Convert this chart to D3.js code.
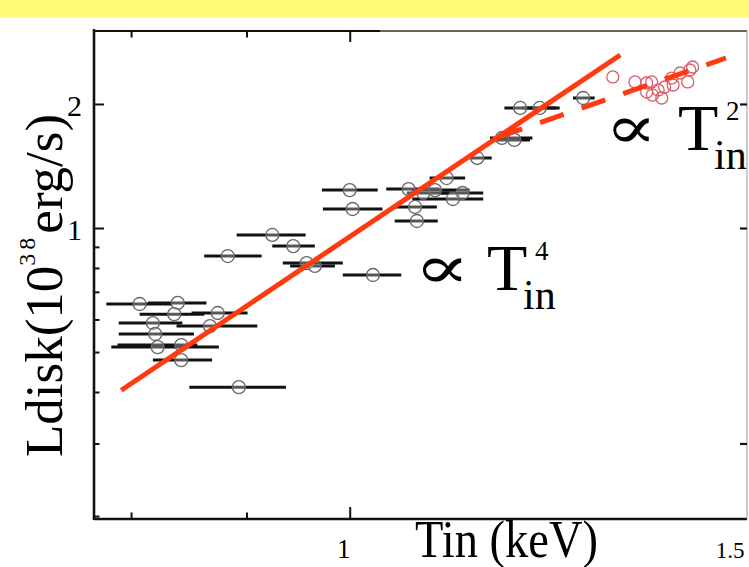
<!DOCTYPE html>
<html>
<head>
<meta charset="utf-8">
<script src="https://cdn.jsdelivr.net/npm/d3@7/dist/d3.min.js"></script>
<style>
  html, body { margin: 0; padding: 0; background: #fff; }
  svg { display: block; }
  text { font-family: "Liberation Serif", "Times New Roman", serif; fill: #000; }
</style>
</head>
<body>
<svg id="chart" width="749" height="567"></svg>
<script>
// Black points: disk temperature (keV) with its range, and disk luminosity (1e38 erg/s)
const tin   = [0.807, 0.839, 0.836, 0.874, 0.818, 0.867, 0.820, 0.822, 0.842, 0.842, 0.893,
               0.883, 0.924, 0.944, 0.957, 0.965, 1.024, 1.000, 1.003, 1.062, 1.069, 1.071,
               1.078, 1.091, 1.104, 1.122, 1.111, 1.139, 1.168, 1.183, 1.190, 1.214, 1.269];
const tinLo = [0.780, 0.814, 0.807, 0.851, 0.790, 0.838, 0.790, 0.784, 0.789, 0.818, 0.849,
               0.862, 0.891, 0.924, 0.934, 0.941, 0.993, 0.972, 0.973, 1.038, 1.047, 1.047,
               1.060, 1.065, 1.085, 1.096, 1.066, 1.130, 1.154, 1.160, 1.171, 1.192, 1.256];
const tinHi = [0.834, 0.864, 0.862, 0.901, 0.843, 0.910, 0.853, 0.875, 0.856, 0.869, 0.937,
               0.914, 0.956, 0.965, 0.993, 0.985, 1.054, 1.029, 1.034, 1.096, 1.093, 1.094,
               1.107, 1.130, 1.125, 1.146, 1.146, 1.156, 1.205, 1.202, 1.235, 1.239, 1.284];
const ldisk = [0.654, 0.658, 0.618, 0.622, 0.588, 0.578, 0.553, 0.514, 0.520, 0.478, 0.411,
               0.855, 0.962, 0.904, 0.822, 0.809, 0.769, 1.236, 1.112, 1.243, 1.125, 1.040,
               1.216, 1.236, 1.322, 1.216, 1.176, 1.479, 1.654, 1.636, 1.956, 1.956, 2.068];

// High-temperature points (open red circles)
const hotTin   = [1.308, 1.338, 1.354, 1.361, 1.370, 1.375, 1.362, 1.389, 1.391, 1.401, 1.415, 1.412, 1.419, 1.379, 1.354];
const hotLdisk = [2.326, 2.262, 2.249, 2.262, 2.163, 2.068, 2.102, 2.312, 2.224, 2.378, 2.418, 2.262, 2.459, 2.199, 2.138];

// Power-law guide lines: L ∝ T^4 (solid) and L ∝ T^2 (dashed)
const fit4Tin = [0.792, 1.318], fit4L = [0.404, 2.630];
const fit2Tin = [1.164, 1.468], fit2L = [1.663, 2.586];

// Ticks and labels
const xMinorTicks = [0.8, 0.9];
const xMajorTicks = [1];
const xTickLabels = ["1", "1.5"];
const xTickLabelValues = [1, 1.5];
const yMinorTicks = [0.2, 0.3, 0.4, 0.5, 0.6, 0.7, 0.8, 0.9];
const yMajorTicks = [1, 2];
const yTickLabels = ["2", "1"];
const yTickLabelValues = [2, 1];
const yRightTicks = [0.3, 1, 2];

const svg = d3.select("#chart");
const plotLeft = 94, plotRight = 747, plotTop = 31, plotBottom = 519;

const x = d3.scaleLog().domain([0.7703, 1.5]).range([plotLeft, plotRight]);
const y = d3.scaleLog().domain([0.1967, 3.007]).range([plotBottom, plotTop]);

// Yellow strip across the top of the page
svg.append("rect").attr("x", 0).attr("y", 0).attr("width", 749).attr("height", 18)
  .attr("fill", "#fffb74");

// Plot frame
const frame = svg.append("g");
frame.append("line").attr("x1", plotLeft).attr("x2", plotLeft).attr("y1", plotTop - 2).attr("y2", plotBottom + 1)
  .attr("stroke", "#111").attr("stroke-width", 2.6);
frame.append("line").attr("x1", plotLeft).attr("x2", plotRight).attr("y1", plotBottom).attr("y2", plotBottom)
  .attr("stroke", "#111").attr("stroke-width", 2.6);
frame.append("line").attr("x1", plotLeft).attr("x2", 380).attr("y1", plotTop).attr("y2", plotTop)
  .attr("stroke", "#111").attr("stroke-width", 2.2);
frame.append("line").attr("x1", 380).attr("x2", plotRight).attr("y1", plotTop).attr("y2", plotTop)
  .attr("stroke", "#333").attr("stroke-width", 1.6);
frame.append("line").attr("x1", plotRight).attr("x2", plotRight).attr("y1", plotTop).attr("y2", plotBottom)
  .attr("stroke", "#999").attr("stroke-width", 1);

// Axis ticks (pointing into the plot)
function styleAxis(g) {
  g.select(".domain").remove();
  g.selectAll(".tick line").attr("stroke", "#111").attr("stroke-width", 2);
  g.selectAll(".tick text").remove();
}
svg.append("g").attr("transform", `translate(0,${plotBottom})`)
  .call(d3.axisBottom(x).tickValues(xMinorTicks).tickSizeInner(-6.5).tickSizeOuter(0)).call(styleAxis);
svg.append("g").attr("transform", `translate(0,${plotBottom})`)
  .call(d3.axisBottom(x).tickValues(xMajorTicks).tickSizeInner(-12).tickSizeOuter(0)).call(styleAxis);
svg.append("g").attr("transform", `translate(0,${plotTop})`)
  .call(d3.axisTop(x).tickValues(xMinorTicks).tickSizeInner(-6.5).tickSizeOuter(0)).call(styleAxis);
svg.append("g").attr("transform", `translate(0,${plotTop})`)
  .call(d3.axisTop(x).tickValues(xMajorTicks).tickSizeInner(-11).tickSizeOuter(0)).call(styleAxis);
svg.append("g").attr("transform", `translate(${plotLeft},0)`)
  .call(d3.axisLeft(y).tickValues(yMinorTicks).tickSizeInner(-5.5).tickSizeOuter(0)).call(styleAxis);
svg.append("g").attr("transform", `translate(${plotLeft},0)`)
  .call(d3.axisLeft(y).tickValues(yMajorTicks).tickSizeInner(-10).tickSizeOuter(0)).call(styleAxis);
svg.append("g").attr("transform", `translate(${plotRight},0)`)
  .call(d3.axisRight(y).tickValues(yRightTicks).tickSizeInner(-7).tickSizeOuter(0)).call(styleAxis)
  .selectAll(".tick line").attr("stroke-width", 2.2);

// Tick labels
svg.append("g").selectAll("text").data(xTickLabels).join("text")
  .attr("x", (d, i) => x(xTickLabelValues[i]) + (i === 0 ? -6 : -17))
  .attr("y", 558)
  .attr("text-anchor", "middle")
  .style("font-size", (d, i) => i === 0 ? "27px" : "23px")
  .text(d => d);
svg.append("g").selectAll("text").data(yTickLabels).join("text")
  .attr("x", 82)
  .attr("y", (d, i) => y(yTickLabelValues[i]) + 12)
  .attr("text-anchor", "end")
  .style("font-size", "30px")
  .text(d => d);

// Axis titles
svg.append("text")
  .attr("x", 415).attr("y", 557)
  .style("font-size", "53px")
  .attr("textLength", 183).attr("lengthAdjust", "spacingAndGlyphs")
  .text("Tin (keV)");

const yTitle = svg.append("text")
  .attr("transform", "translate(62,457) rotate(-90)")
  .style("font-size", "53px");
yTitle.append("tspan").text("Ldisk(10");
yTitle.append("tspan").attr("dy", -27).style("font-size", "24px").style("letter-spacing", "4px").text("38");
yTitle.append("tspan").attr("dy", 27).style("font-size", "53px").text("erg/s)");

// Horizontal error bars
const pts = tin.map((t, i) => ({ t, lo: tinLo[i], hi: tinHi[i], l: ldisk[i] }));
svg.append("g").selectAll("line").data(pts).join("line")
  .attr("x1", d => x(d.lo)).attr("x2", d => x(d.hi))
  .attr("y1", d => y(d.l)).attr("y2", d => y(d.l))
  .attr("stroke", "#111").attr("stroke-width", 3);

svg.append("g").selectAll("circle").data(pts).join("circle")
  .attr("cx", d => x(d.t)).attr("cy", d => y(d.l)).attr("r", 6.5)
  .attr("fill", "rgba(255,255,255,0.3)").attr("stroke", "#666").attr("stroke-width", 1.3);

// High-temperature points
const hot = hotTin.map((t, i) => ({ t, l: hotLdisk[i] }));
svg.append("g").selectAll("circle").data(hot).join("circle")
  .attr("cx", d => x(d.t)).attr("cy", d => y(d.l)).attr("r", 6)
  .attr("fill", "none").attr("stroke", "#d8606b").attr("stroke-width", 1.3);

// Guide lines
const line = d3.line().x(d => x(d[0])).y(d => y(d[1]));
svg.append("path").datum(fit4Tin.map((t, i) => [t, fit4L[i]]))
  .attr("d", line).attr("fill", "none").attr("stroke", "#ff3a10").attr("stroke-width", 5);
svg.append("path").datum(fit2Tin.map((t, i) => [t, fit2L[i]]))
  .attr("d", line).attr("fill", "none").attr("stroke", "#ff3a10").attr("stroke-width", 5)
  .attr("stroke-dasharray", "25 19");

// Power-law annotations
function annot(xp, yp, power, symWidth) {
  const g = svg.append("g").attr("transform", `translate(${xp},${yp})`);
  g.append("text").attr("x", -8).attr("y", 0)
    .style("font-family", "'DejaVu Serif', serif").style("font-size", "60px")
    .attr("textLength", symWidth).attr("lengthAdjust", "spacingAndGlyphs")
    .text("∝");
  g.append("text").attr("x", 65).attr("y", 2).style("font-size", "66px").text("T");
  g.append("text").attr("x", 101).attr("y", 21).style("font-size", "42px").text("in");
  g.append("text").attr("x", 113).attr("y", -28).style("font-size", "27px").text(power);
}
annot(422, 288, "4", 56);
annot(613, 148, "2", 52);
</script>
</body>
</html>
